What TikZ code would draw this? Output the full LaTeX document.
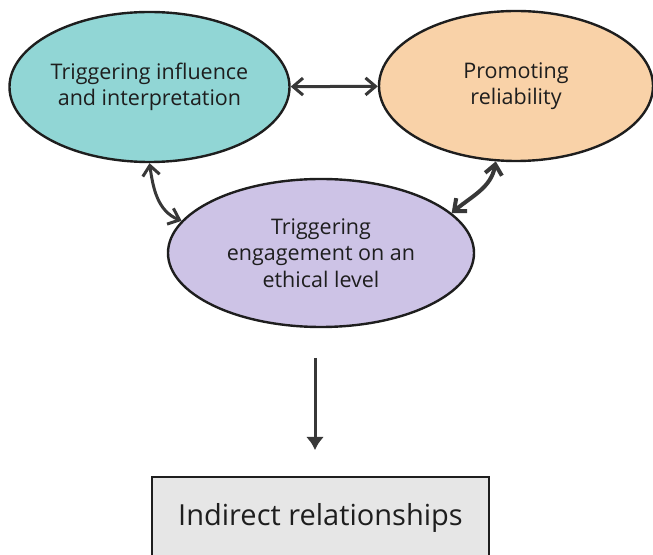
\documentclass[tikz,border=0pt]{standalone}
\usepackage{fontspec}
\setmainfont{Open Sans}
\usetikzlibrary{shapes.geometric,arrows.meta}
\definecolor{teal}{HTML}{91D6D5}
\definecolor{peach}{HTML}{F9D2A8}
\definecolor{lav}{HTML}{CDC3E6}
\definecolor{boxgray}{HTML}{E6E6E6}
\definecolor{ink}{HTML}{1E1E1E}
\definecolor{arr}{HTML}{383838}
\tikzset{
  oval/.style={ellipse, draw=ink, line width=2.4pt, inner sep=0pt, align=center,
    font=\fontsize{21.5}{26.5}\selectfont, text=ink},
  link/.style={draw=arr, line width=3pt, {Straight Barb[length=10pt,width=17pt]}-{Straight Barb[length=10pt,width=17pt]}},
  boxnode/.style={draw=ink, line width=2.4pt, fill=boxgray, minimum width=337pt, minimum height=82pt,
    font=\fontsize{29}{33}\selectfont, text=ink}
}
\begin{document}
\begin{tikzpicture}[x=1pt,y=1pt]
\useasboundingbox (0,0) rectangle (653,554);
\clip (0,0) rectangle (653,554);
\node[oval, fill=teal, minimum width=280pt, minimum height=150pt] (L) at (149.5,467) {Triggering influence\\and interpretation};
\node[oval, fill=peach, minimum width=274pt, minimum height=150pt] (R) at (516,468) {Promoting\\reliability};
\node[oval, fill=lav, minimum width=306pt, minimum height=148pt] (M) at (321,301) {Triggering\\engagement on an\\ethical level};
\node[boxnode] (B) at (320.5,36) {Indirect relationships};
\draw[link] (L) -- (R);
\draw[link] (L.south) to[out=-82,in=158] (M.167);
\draw[link, line width=4pt] (R.255) to[out=-100,in=40] (M.17);
\coordinate (a1) at (315,196);
\coordinate (a2) at (315,104);
\draw[draw=arr, line width=3pt, -{Latex[length=13pt,width=18pt]}] (a1) -- (a2);
\end{tikzpicture}
\end{document}
